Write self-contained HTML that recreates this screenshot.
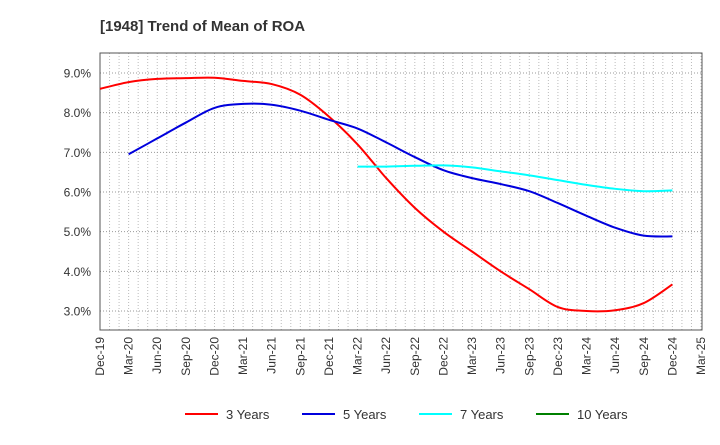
<!DOCTYPE html>
<html><head><meta charset="utf-8"><style>
body{margin:0;background:#fff;font-family:"Liberation Sans",sans-serif}
</style></head><body>
<svg width="720" height="440" xmlns="http://www.w3.org/2000/svg">
<text x="100" y="31" font-size="15" font-weight="bold" fill="#333">[1948]  Trend of Mean of ROA</text>
<g id="grid"></g>
<rect x="100" y="53" width="602" height="277" fill="none" stroke="#555" stroke-width="1"/>
<g id="series"></g>
<g id="legend"></g>
</svg>
<script>
const quarters=["Dec-19","Mar-20","Jun-20","Sep-20","Dec-20","Mar-21","Jun-21","Sep-21","Dec-21","Mar-22","Jun-22","Sep-22","Dec-22","Mar-23","Jun-23","Sep-23","Dec-23","Mar-24","Jun-24","Sep-24","Dec-24","Mar-25"];
const yTicks=[3,4,5,6,7,8,9];
const y3=[8.6,8.77,8.85,8.87,8.88,8.8,8.72,8.45,7.9,7.2,6.35,5.6,5.0,4.5,4.0,3.55,3.1,3.0,3.02,3.2,3.67];
const y5=[null,6.95,7.35,7.75,8.12,8.22,8.2,8.05,7.82,7.6,7.25,6.88,6.55,6.35,6.2,6.02,5.72,5.4,5.1,4.9,4.88];
const y7=[null,null,null,null,null,null,null,null,null,6.64,6.64,6.66,6.67,6.62,6.52,6.42,6.3,6.18,6.08,6.02,6.04];
const y10=[];
const NS="http://www.w3.org/2000/svg";
const X0=100,X1=701,Y0=330,Y1=53;
const xs=i=>X0+(X1-X0)*i/(quarters.length-1);
const ys=v=>311-(v-3)*39.67;
function mk(t,a,p){const e=document.createElementNS(NS,t);for(const k in a)e.setAttribute(k,a[k]);p.appendChild(e);return e;}
const grid=document.getElementById('grid');
for(let m=0;m<=63;m++){const x=X0+(X1-X0)*m/63;
 const l=mk('line',{x1:x,x2:x,y1:Y1,y2:Y0,stroke:'#bbb','stroke-dasharray':'1,2'},grid);
 
 }
yTicks.forEach(v=>{const y=ys(v);
 const l=mk('line',{x1:X0,x2:702,y1:y,y2:y,stroke:'#999','stroke-dasharray':'1,2'},grid);
 
 
 const t=mk('text',{x:91,y:y+4.5,'font-size':12,'text-anchor':'end',fill:'#333'},grid);
 t.textContent=v.toFixed(1)+'%';
 
 });
quarters.forEach((q,i)=>{const x=xs(i);
 const t=mk('text',{x:0,y:0,'font-size':12,'text-anchor':'end',fill:'#333',transform:`translate(${x+4},337) rotate(-90)`},grid);
 t.textContent=q;
 
 });
function path(arr){const p=[];arr.forEach((v,i)=>{if(v!=null)p.push([xs(i),ys(v)])});
 if(p.length<2)return '';let d=`M${p[0][0]},${p[0][1]}`;
 for(let i=0;i<p.length-1;i++){const a=p[i-1]||p[i],b=p[i],c=p[i+1],e=p[i+2]||c;
  d+=` C${b[0]+(c[0]-a[0])/6},${b[1]+(c[1]-a[1])/6} ${c[0]-(e[0]-b[0])/6},${c[1]-(e[1]-b[1])/6} ${c[0]},${c[1]}`;}
 return d;}
const S=document.getElementById('series');
[[y3,'red','line-3-years'],[y5,'#0000dd','line-5-years'],[y7,'cyan','line-7-years'],[y10,'green','line-10-years']].forEach(([a,c,n])=>{
 const d=path(a);if(!d)return;
 const e=mk('path',{d:d,fill:'none',stroke:c,'stroke-width':2},S);
 
 });
const L=document.getElementById('legend');
[['3 Years','red',185],['5 Years','#0000dd',302],['7 Years','cyan',419],['10 Years','green',536]].forEach(([t,c,x])=>{
 const g=mk('g',{},L);
 
 
 mk('line',{x1:x,x2:x+33,y1:414,y2:414,stroke:c,'stroke-width':2},g);
 const tx=mk('text',{x:x+41,y:419,'font-size':13,fill:'#333'},g);tx.textContent=t;});
</script>
</body></html>
